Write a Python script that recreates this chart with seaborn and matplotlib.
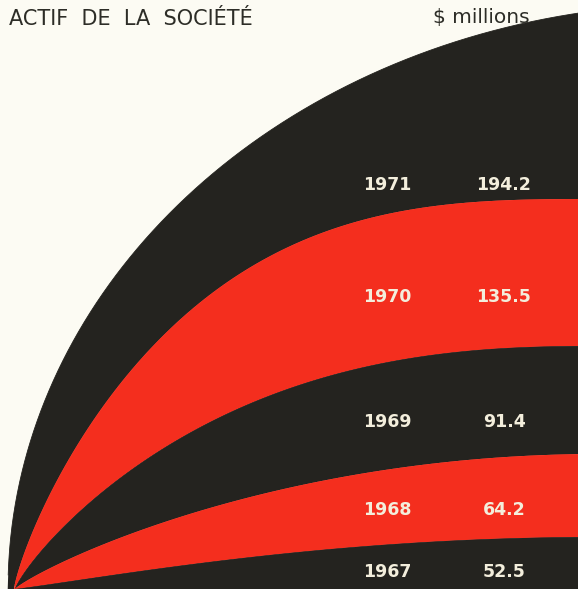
import numpy as np
import pandas as pd
import matplotlib
matplotlib.use("Agg")
import matplotlib.pyplot as plt
import seaborn as sns

# ── Data ─────────────────────────────────────────────────────
years  = [1971, 1970, 1969, 1968, 1967]
assets = [194.2, 135.5, 91.4, 64.2, 52.5]          # $ millions
title  = "ACTIF  DE  LA  SOCIÉTÉ"
unit   = "$ millions"

# ── Style ────────────────────────────────────────────────────
W_PX, H_PX  = 578, 589
BG          = "#fcfbf3"
BLACK       = "#24231f"
RED         = "#f42e1e"
INK         = "#2d2d27"
CREAM       = "#f3eedc"
band_colors = [BLACK, RED, BLACK, RED, BLACK]

# the arcs in the original are drawn, not scaled: height + shape per arc
arc_peak  = [585, 390, 243, 135, 52]
arc_start = [8, 14, 15, 15, 15]
arc_end   = [700, 600, 600, 600, 600]
arc_p     = [2.0, 3.0, 2.5, 2.0, 2.0]
arc_q     = [2.0, 1.24, 1.2, 1.15, 0.9]
label_base = [399, 287, 162, 74, 12]     # text baselines (px from bottom)
year_x, value_x = 387, 504


def arc(x, peak, x0, x1, p, q):
    s = np.clip((x - x0) / (x1 - x0), 0, 1)
    return peak * (1 - (1 - s) ** p) ** (1 / q)


sns.set_style("white", {"axes.facecolor": BG, "figure.facecolor": BG})
plt.rcParams["font.family"] = ["DejaVu Sans"]

fig = plt.figure(figsize=(W_PX / 100, H_PX / 100), dpi=100)
ax = fig.add_axes([0, 0, 1, 1])
ax.set_xlim(0, W_PX)
ax.set_ylim(0, H_PX)
ax.axis("off")

x = np.linspace(0, W_PX, 1200)
curves = [arc(x, arc_peak[i], arc_start[i], arc_end[i], arc_p[i], arc_q[i])
          for i in range(len(years))]

# curve edges (outline under the fills)
df = pd.concat([pd.DataFrame({"x": x, "h": c, "year": str(y)})
                for c, y in zip(curves, years)])
df = df[df["h"] > 0]
sns.lineplot(data=df, x="x", y="h", hue="year",
             palette=dict(zip(map(str, years), band_colors)),
             legend=False, lw=0.6, ax=ax, zorder=1, estimator=None)

# bands
for i in range(len(years)):
    lower = curves[i + 1] if i + 1 < len(years) else np.zeros_like(x)
    ax.fill_between(x, lower, curves[i], color=band_colors[i],
                    lw=0, zorder=2)

# labels
for yr, val, yb in zip(years, assets, label_base):
    ax.text(year_x, yb, str(yr), ha="center", va="baseline",
            color=CREAM, fontsize=12.5, fontweight="bold", zorder=3)
    ax.text(value_x, yb, f"{val:.1f}", ha="center", va="baseline",
            color=CREAM, fontsize=12.5, fontweight="bold", zorder=3)

fig.text(9 / W_PX, 1 - 25 / H_PX, title, ha="left", va="baseline",
         color=INK, fontsize=15)
fig.text(433 / W_PX, 1 - 23 / H_PX, unit, ha="left", va="baseline",
         color=INK, fontsize=14.5)

fig.savefig("out.png", dpi=100, facecolor=BG)
